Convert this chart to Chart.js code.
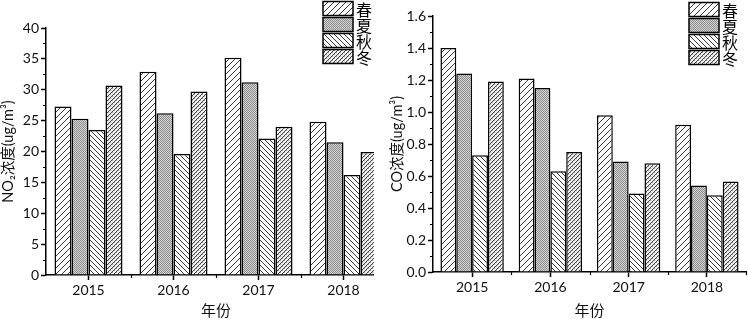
<!DOCTYPE html>
<html><head><meta charset="utf-8">
<script src="https://cdn.jsdelivr.net/npm/chart.js@4.4.0/dist/chart.umd.min.js"></script>
<style>
html,body{margin:0;padding:0;background:#fff;}
#wrap{position:relative;width:748px;height:319px;overflow:hidden;background:#fff}
#l{position:absolute;left:0;top:0;width:374px;height:319px;overflow:hidden}
#r{position:absolute;left:374px;top:0;width:374px;height:319px;overflow:hidden}
canvas{display:block}
</style></head><body>
<div id="wrap"><div id="l"><canvas id="c1" width="390" height="319"></canvas></div><div id="r"><canvas id="c2" width="374" height="319"></canvas></div></div>
<script>
// ---- data ----
const years = ['2015', '2016', '2017', '2018'];
const seasons = ['春', '夏', '秋', '冬'];
const no2Spring = [27.3, 32.9, 35.2, 24.8];
const no2Summer = [25.3, 26.2, 31.2, 21.5];
const no2Autumn = [23.5, 19.6, 22.1, 16.2];
const no2Winter = [30.7, 29.7, 24.0, 19.9];
const coSpring = [1.40, 1.21, 0.98, 0.92];
const coSummer = [1.24, 1.15, 0.69, 0.54];
const coAutumn = [0.73, 0.63, 0.49, 0.48];
const coWinter = [1.19, 0.75, 0.68, 0.565];
const no2TickValues = [0, 5, 10, 15, 20, 25, 30, 35, 40];
const coTickValues = [0, 0.2, 0.4, 0.6, 0.8, 1.0, 1.2, 1.4, 1.6];
const xTitle = '年份';
const no2Title = 'NO₂浓度(ug/m³)';
const coTitle = 'CO浓度(ug/m³)';

const FONT = 'Lato, "Noto Sans CJK SC", "DejaVu Sans", sans-serif';

function pat(kind) {
  const c = document.createElement('canvas');
  const x = c.getContext('2d');
  let s;
  if (kind === 'spring') {
    s = 6; c.width = c.height = s;
    x.fillStyle = '#fff'; x.fillRect(0, 0, s, s);
    x.strokeStyle = '#3a3a3a'; x.lineWidth = 1;
    x.beginPath();
    x.moveTo(0, s); x.lineTo(s, 0);
    x.moveTo(-2, 2); x.lineTo(2, -2);
    x.moveTo(s - 2, s + 2); x.lineTo(s + 2, s - 2);
    x.stroke();
  } else if (kind === 'summer') {
    s = 2; c.width = c.height = s;
    x.fillStyle = '#d4d4d4'; x.fillRect(0, 0, s, s);
    x.fillStyle = '#8c8c8c'; x.fillRect(0, 0, 1, 1); x.fillRect(1, 1, 1, 1);
  } else if (kind === 'autumn') {
    s = 5; c.width = c.height = s;
    x.fillStyle = '#fff'; x.fillRect(0, 0, s, s);
    x.strokeStyle = '#3a3a3a'; x.lineWidth = 1;
    x.beginPath();
    x.moveTo(0, 0); x.lineTo(s, s);
    x.moveTo(-2, s - 2); x.lineTo(2, s + 2);
    x.moveTo(s - 2, -2); x.lineTo(s + 2, 2);
    x.stroke();
  } else {
    s = 4; c.width = c.height = s;
    x.fillStyle = '#eeeeee'; x.fillRect(0, 0, s, s);
    x.fillStyle = '#a8a8a8';
    x.fillRect(0, 0, 1, 1); x.fillRect(2, 2, 1, 1);
    x.strokeStyle = '#444'; x.lineWidth = 1;
    x.beginPath();
    x.moveTo(0, s); x.lineTo(s, 0);
    x.moveTo(-2, 2); x.lineTo(2, -2);
    x.moveTo(s - 2, s + 2); x.lineTo(s + 2, s - 2);
    x.stroke();
  }
  return x.createPattern(c, 'repeat');
}
const fills = [pat('spring'), pat('summer'), pat('autumn'), pat('winter')];

const minorTicks = {
  id: 'minorTicks',
  afterDraw(chart) {
    const ctx = chart.ctx, y = chart.scales.y, x = chart.scales.x;
    ctx.save();
    ctx.strokeStyle = '#000'; ctx.lineWidth = 1.2;
    ctx.beginPath();
    const t = y.ticks;
    for (let i = 0; i < t.length - 1; i++) {
      const p = Math.round(y.getPixelForValue((t[i].value + t[i + 1].value) / 2)) + 0.5;
      ctx.moveTo(y.right - 3, p); ctx.lineTo(y.right, p);
    }
    const n = x.ticks.length;
    for (let i = 1; i <= n; i++) {
      const p = Math.round(x.getPixelForValue(i - 0.5)) + 0.5;
      ctx.moveTo(p, x.top); ctx.lineTo(p, x.top + 3);
    }
    ctx.stroke();
    ctx.restore();
  }
};

const boxLegend = {
  id: 'boxLegend',
  afterDraw(chart, args, o) {
    const ctx = chart.ctx;
    ctx.save();
    chart.data.datasets.forEach((ds, i) => {
      const y = o.top + i * o.row;
      ctx.fillStyle = ds.backgroundColor;
      ctx.fillRect(o.left, y, o.w, o.h);
      ctx.strokeStyle = '#000'; ctx.lineWidth = 1.5;
      ctx.strokeRect(o.left, y, o.w, o.h);
      ctx.fillStyle = '#000';
      ctx.font = '16px "Noto Sans CJK SC"';
      ctx.textBaseline = 'middle'; ctx.textAlign = 'left';
      ctx.fillText(ds.label, o.left + o.w + 3, y + o.h / 2 + 1);
    });
    ctx.restore();
  }
};

function makeChart(id, series, tickVals, fmt, yTitle, cfg) {
  return new Chart(document.getElementById(id), {
    type: 'bar',
    data: {
      labels: years,
      datasets: series.map((d, i) => ({
        label: seasons[i], data: d, backgroundColor: fills[i],
        borderColor: '#000', borderWidth: 1.5,
        barPercentage: 1, categoryPercentage: cfg.catPct
      }))
    },
    plugins: [minorTicks, boxLegend],
    options: {
      responsive: false, animation: false, devicePixelRatio: 1,
      layout: { padding: cfg.padding },
      plugins: {
        legend: { display: false }, tooltip: { enabled: false },
        boxLegend: cfg.legend
      },
      scales: {
        x: {
          type: 'category', offset: true,
          grid: { drawOnChartArea: false, drawTicks: true, tickLength: 5, tickColor: '#000', tickWidth: 1.5, offset: false },
          border: { color: '#000', width: 1.5 },
          ticks: { color: '#111', font: { family: FONT, size: 14 }, padding: 2, maxRotation: 0 },
          title: { display: true, text: xTitle, color: '#111', font: { family: FONT, size: 15, lineHeight: 1 }, padding: { top: 0, bottom: 0 } },
          afterFit(s) { s.height = cfg.xHeight; }
        },
        y: {
          min: tickVals[0], max: tickVals[tickVals.length - 1],
          afterBuildTicks(s) { s.ticks = tickVals.map(v => ({ value: v })); },
          grid: { drawOnChartArea: false, drawTicks: true, tickLength: 5, tickColor: '#000', tickWidth: 1.5 },
          border: { color: '#000', width: 1.5 },
          ticks: { color: '#111', font: { family: FONT, size: 14 }, padding: 2, callback: fmt },
          title: { display: true, text: yTitle, color: '#111', font: { family: FONT, size: 14.5, lineHeight: 1.2 }, padding: { top: cfg.yTitlePad, bottom: 0 } },
          afterFit(s) { s.width = cfg.yWidth; }
        }
      }
    }
  });
}

makeChart('c1', [no2Spring, no2Summer, no2Autumn, no2Winter], no2TickValues, v => String(v), no2Title, {
  catPct: 0.8, padding: { left: 0, top: 28, right: 4, bottom: 0 },
  xHeight: 44, yWidth: 46, yTitlePad: 0,
  legend: { left: 323, top: 1.5, w: 30, h: 14, row: 16 }
});
makeChart('c2', [coSpring, coSummer, coAutumn, coWinter], coTickValues, v => Number(v).toFixed(1), coTitle, {
  catPct: 0.81, padding: { left: 0, top: 16, right: 2, bottom: 0 },
  xHeight: 47, yWidth: 59, yTitlePad: 15,
  legend: { left: 315, top: 2.5, w: 30, h: 14, row: 16 }
});
</script>
</body></html>
